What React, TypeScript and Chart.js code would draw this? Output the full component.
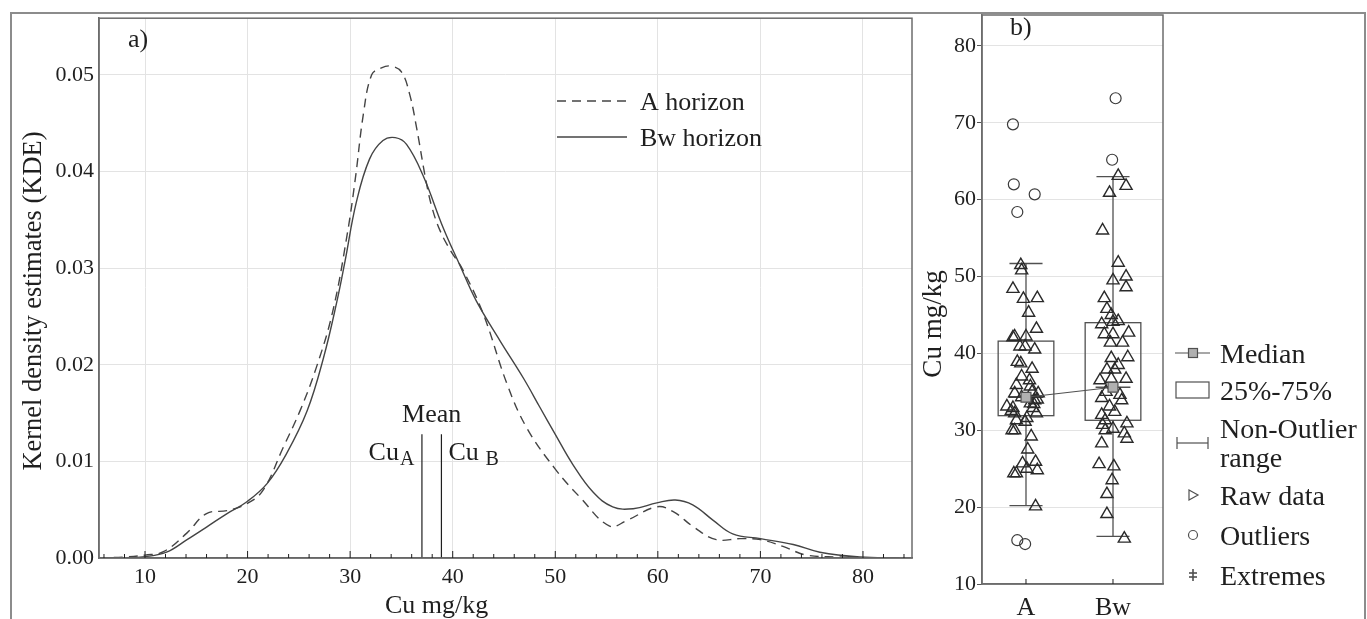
import { useEffect, useRef } from 'react';
import { Chart, registerables } from 'chart.js';

Chart.register(...registerables);

const SERIF = '"Liberation Serif", "DejaVu Serif", "Times New Roman", serif';
const INK = '#1f1f1f';
const CURVE = '#444444';
const FRAME = '#6c6c6c';
const GRID = '#e3e3e3';

// ---- a) kernel density estimates
const kdeAX = [5.5, 8, 10, 11.8, 14.1, 16, 18, 19.9, 21.5, 23.5, 25.1, 26.7, 28.3, 29.7, 30.5, 31.3, 32.1, 33, 34, 35, 35.8, 36.5, 37.4, 38.0, 38.8, 39.8, 41.0, 43, 45.3, 47.2, 50, 52.4, 55.3, 57, 59.9, 61.5, 63.5, 65.7, 68, 70, 72.2, 74.5, 77.7, 80, 83.5];
const kdeAY = [0, 0.0001, 0.0003, 0.00065, 0.0026, 0.0046, 0.0049, 0.0056, 0.007, 0.0115, 0.0152, 0.0197, 0.0255, 0.0334, 0.0392, 0.046, 0.05, 0.0507, 0.0509, 0.0503, 0.048, 0.0444, 0.039, 0.0362, 0.0338, 0.0318, 0.0298, 0.0252, 0.018, 0.0135, 0.0092, 0.0063, 0.0033, 0.0039, 0.0053, 0.0048, 0.0032, 0.0019, 0.002, 0.0019, 0.0012, 0.0003, 0.0001, 0, 0];

const kdeBX = [5.5, 8, 10, 12.1, 14.1, 16, 18, 19.9, 21.9, 23.8, 25.8, 27.4, 28.7, 29.5, 30.6, 31.9, 33.2, 34.4, 35.5, 37.1, 39.1, 40.7, 42.3, 44.6, 46.9, 48.5, 50, 51.7, 53.7, 55.6, 57.6, 59.9, 61.7, 63.4, 65.4, 67.3, 70, 73.2, 75.8, 79.7, 83.5];
const kdeBY = [0, 0, 0.00013, 0.0006, 0.0019, 0.0032, 0.0046, 0.0058, 0.0077, 0.0108, 0.0152, 0.0207, 0.0265, 0.0307, 0.0368, 0.0413, 0.0432, 0.0435, 0.0428, 0.0396, 0.0341, 0.0303, 0.0266, 0.0225, 0.0186, 0.0156, 0.0128, 0.0097, 0.0068, 0.0053, 0.0051, 0.0057, 0.006, 0.0055, 0.0039, 0.0025, 0.002, 0.0014, 0.0006, 0.0001, 0];

const kdeTicksX = [10, 20, 30, 40, 50, 60, 70, 80];
const kdeTicksY = [0, 0.01, 0.02, 0.03, 0.04, 0.05];

const meanA = 37.0;
const meanB = 38.9;
const meanTop = 0.0128;

// ---- b) box plot of Cu by horizon
const groups = ['A', 'Bw'];
const boxQ1 = [31.9, 31.3];
const boxQ3 = [41.6, 44.0];
const boxMedian = [34.3, 35.6];
const whiskerLow = [20.2, 16.2];
const whiskerHigh = [51.7, 63.0];

const rawA = [51.5, 50.8, 48.4, 47.1, 47.2, 45.3, 43.2, 42.2, 42.2, 42.1, 40.9, 40.5, 40.9, 38.9, 38.7, 38.0, 37.0, 36.5, 35.9, 35.7, 34.8, 34.8, 33.9, 33.1, 32.9, 32.2, 32.9, 32.2, 31.3, 31.1, 31.6, 30.0, 30.0, 29.2, 27.5, 25.7, 25.0, 25.9, 24.8, 24.4, 24.4, 20.1, 34.3, 33.5, 34.0, 32.5, 33.4, 35.0];
const rawAJitter = [-0.06, -0.05, -0.15, -0.03, 0.13, 0.03, 0.12, -0.13, 0.0, -0.15, -0.07, 0.1, -0.01, -0.1, -0.06, 0.07, -0.05, 0.04, -0.11, 0.05, -0.13, 0.14, 0.1, -0.22, -0.15, -0.13, 0.08, 0.12, -0.11, -0.01, 0.01, -0.16, -0.13, 0.06, 0.02, -0.04, 0.01, 0.11, 0.13, -0.14, -0.11, 0.11, -0.05, 0.05, 0.13, -0.17, 0.09, 0.07];

const rawBw = [63.1, 61.8, 60.9, 56.0, 51.8, 50.0, 49.5, 48.6, 47.2, 45.8, 45.0, 44.2, 43.8, 44.1, 42.7, 42.5, 42.5, 41.4, 41.4, 39.5, 39.4, 37.9, 38.5, 37.9, 36.7, 36.5, 36.7, 35.0, 34.2, 34.6, 33.9, 33.1, 32.4, 32.0, 31.3, 30.9, 30.7, 30.2, 30.0, 29.6, 28.9, 28.3, 25.6, 25.3, 23.5, 21.7, 19.1, 15.9];
const rawBwJitter = [0.06, 0.15, -0.04, -0.12, 0.06, 0.15, 0.0, 0.15, -0.1, -0.07, -0.02, 0.06, -0.13, 0.0, 0.18, -0.1, 0.0, 0.11, -0.03, 0.17, -0.02, -0.07, 0.06, 0.02, 0.15, -0.15, -0.02, -0.08, -0.13, 0.08, 0.1, -0.04, 0.02, -0.13, -0.09, 0.16, -0.12, 0.0, -0.09, 0.13, 0.16, -0.13, -0.16, 0.01, -0.01, -0.07, -0.07, 0.13];

const outA = [69.8, 62.0, 60.7, 58.4, 15.7, 15.2];
const outAJitter = [-0.15, -0.14, 0.1, -0.1, -0.1, -0.01];
const outBw = [73.2, 65.2];
const outBwJitter = [0.03, -0.01];

const boxTicksY = [10, 20, 30, 40, 50, 60, 70, 80];
const legendLabels = ['Median', '25%-75%', 'Non-Outlier', 'range', 'Raw data', 'Outliers', 'Extremes'];

// sizes in category units
const boxHalf = 0.32;
const capHalf = 0.19;
const medianHalf = 0.2;

function txt(ctx: CanvasRenderingContext2D, s: string, x: number, y: number, size: number, align: CanvasTextAlign = 'left', rotate = 0) {
  ctx.save();
  ctx.font = `${size}px ${SERIF}`;
  ctx.fillStyle = INK;
  ctx.textAlign = align;
  ctx.textBaseline = 'alphabetic';
  ctx.translate(x, y);
  if (rotate) ctx.rotate(rotate);
  ctx.fillText(s, 0, 0);
  ctx.restore();
}

function seg(ctx: CanvasRenderingContext2D, x1: number, y1: number, x2: number, y2: number) {
  ctx.beginPath();
  ctx.moveTo(x1, y1);
  ctx.lineTo(x2, y2);
  ctx.stroke();
}

const kdeDecor = {
  id: 'kdeDecor',
  afterDraw(chart: any) {
    const { ctx, chartArea: a, scales } = chart;
    const sx = scales.x;
    ctx.save();
    ctx.strokeStyle = FRAME;
    ctx.lineWidth = 1.5;
    ctx.strokeRect(a.left, a.top, a.right - a.left, a.bottom - a.top);

    // inward ticks along the x axis
    ctx.strokeStyle = INK;
    ctx.lineWidth = 1;
    for (let v = 6; v <= 84; v += 2) {
      const px = sx.getPixelForValue(v);
      seg(ctx, px, a.bottom, px, a.bottom - (v % 10 === 0 ? 7 : 4));
    }

    // legend
    ctx.strokeStyle = CURVE;
    ctx.lineWidth = 1.4;
    ctx.setLineDash([9, 6]);
    seg(ctx, 557, 101, 627, 101);
    ctx.setLineDash([]);
    seg(ctx, 557, 137, 627, 137);
    txt(ctx, 'A horizon', 640, 110, 26);
    txt(ctx, 'Bw horizon', 640, 146, 26);

    txt(ctx, 'a)', 128, 47, 26);

    // mean labels
    const mA = sx.getPixelForValue(meanA);
    const mB = sx.getPixelForValue(meanB);
    txt(ctx, 'Mean', (mA + mB) / 2, 422, 26, 'center');
    txt(ctx, 'Cu', mA - 23, 460, 26, 'right');
    txt(ctx, 'A', mA - 22, 465, 20, 'left');
    txt(ctx, 'Cu', mB + 7, 460, 26, 'left');
    txt(ctx, 'B', mB + 44, 465, 20, 'left');

    // axis titles
    txt(ctx, 'Cu mg/kg', 385, 613, 26);
    txt(ctx, 'Kernel density estimates (KDE)', 41, 301, 26.5, 'center', -Math.PI / 2);
    ctx.restore();
  },
};

const boxDecor = {
  id: 'boxDecor',
  beforeDatasetsDraw(chart: any) {
    const { ctx, scales } = chart;
    const { x, y } = scales;
    ctx.save();
    ctx.strokeStyle = '#505050';
    ctx.lineWidth = 1.3;
    groups.forEach((_, i) => {
      const c = i + 1;
      const cx = x.getPixelForValue(c);
      const l = x.getPixelForValue(c - boxHalf);
      const r = x.getPixelForValue(c + boxHalf);
      const top = y.getPixelForValue(boxQ3[i]);
      const bot = y.getPixelForValue(boxQ1[i]);
      ctx.strokeRect(l, top, r - l, bot - top);
      const lo = y.getPixelForValue(whiskerLow[i]);
      const hi = y.getPixelForValue(whiskerHigh[i]);
      seg(ctx, cx, bot, cx, lo);
      seg(ctx, cx, top, cx, hi);
      const cl = x.getPixelForValue(c - capHalf);
      const cr = x.getPixelForValue(c + capHalf);
      seg(ctx, cl, lo, cr, lo);
      seg(ctx, cl, hi, cr, hi);
      const md = y.getPixelForValue(boxMedian[i]);
      seg(ctx, x.getPixelForValue(c - medianHalf), md, x.getPixelForValue(c + medianHalf), md);
    });
    ctx.restore();
  },
  afterDraw(chart: any) {
    const { ctx, chartArea: a, scales } = chart;
    const off = 912; // canvas sits at page x = 912
    ctx.save();
    ctx.strokeStyle = FRAME;
    ctx.lineWidth = 1.5;
    ctx.strokeRect(a.left, a.top, a.right - a.left, a.bottom - a.top);
    ctx.strokeStyle = INK;
    ctx.lineWidth = 1;
    groups.forEach((_, i) => {
      const px = scales.x.getPixelForValue(i + 1);
      seg(ctx, px, a.bottom, px, a.bottom - 5);
    });

    txt(ctx, 'b)', 1010 - off, 35, 26);
    txt(ctx, 'Cu mg/kg', 941 - off, 324, 27, 'center', -Math.PI / 2);

    // legend outside the plot
    const ix = 1193 - off;
    const tx = 1220 - off;
    const rows = [353, 390, 428, 457, 495, 535, 575];
    ctx.strokeStyle = '#505050';
    ctx.lineWidth = 1.2;
    seg(ctx, ix - 18, rows[0], ix + 17, rows[0]);
    ctx.fillStyle = '#b0b0b0';
    ctx.fillRect(ix - 4.5, rows[0] - 4.5, 9, 9);
    ctx.strokeRect(ix - 4.5, rows[0] - 4.5, 9, 9);
    ctx.strokeRect(ix - 17, rows[1] - 8, 33, 16);
    const wy = 443;
    seg(ctx, ix - 16, wy, ix + 15, wy);
    seg(ctx, ix - 16, wy - 6, ix - 16, wy + 6);
    seg(ctx, ix + 15, wy - 6, ix + 15, wy + 6);
    ctx.beginPath();
    ctx.moveTo(ix - 4, rows[4] - 5);
    ctx.lineTo(ix + 5, rows[4]);
    ctx.lineTo(ix - 4, rows[4] + 5);
    ctx.closePath();
    ctx.stroke();
    ctx.beginPath();
    ctx.arc(ix, rows[5], 4.5, 0, Math.PI * 2);
    ctx.stroke();
    ctx.lineWidth = 1.6;
    seg(ctx, ix, rows[6] - 6, ix, rows[6] + 6);
    seg(ctx, ix - 4, rows[6] - 2, ix + 4, rows[6] - 2);
    seg(ctx, ix - 4, rows[6] + 2, ix + 4, rows[6] + 2);
    legendLabels.forEach((s, i) => txt(ctx, s, tx, rows[i] + 10, 28));
    ctx.restore();
  },
};

export default function App() {
  const leftRef = useRef<HTMLCanvasElement | null>(null);
  const rightRef = useRef<HTMLCanvasElement | null>(null);

  useEffect(() => {
    if (!leftRef.current || !rightRef.current) return;
    Chart.defaults.font.family = SERIF;
    Chart.defaults.color = INK;

    const kde = new Chart(leftRef.current, {
      type: 'line',
      data: {
        datasets: [
          {
            label: 'A horizon',
            data: kdeAX.map((x, i) => ({ x, y: kdeAY[i] })),
            borderColor: CURVE,
            borderWidth: 1.4,
            borderDash: [9, 6],
            pointRadius: 0,
            tension: 0.4,
          },
          {
            label: 'Bw horizon',
            data: kdeBX.map((x, i) => ({ x, y: kdeBY[i] })),
            borderColor: CURVE,
            borderWidth: 1.4,
            pointRadius: 0,
            tension: 0.4,
          },
          {
            label: 'mean A',
            data: [{ x: meanA, y: 0 }, { x: meanA, y: meanTop }],
            borderColor: INK,
            borderWidth: 1.2,
            pointRadius: 0,
          },
          {
            label: 'mean B',
            data: [{ x: meanB, y: 0 }, { x: meanB, y: meanTop }],
            borderColor: INK,
            borderWidth: 1.2,
            pointRadius: 0,
          },
        ],
      },
      options: {
        responsive: true,
        maintainAspectRatio: false,
        animation: false,
        events: [],
        layout: { padding: { left: 0, right: 2, top: 15, bottom: 0 } },
        plugins: { legend: { display: false }, tooltip: { enabled: false } },
        scales: {
          x: {
            type: 'linear',
            min: 5.515,
            max: 84.78,
            afterBuildTicks: (axis: any) => { axis.ticks = kdeTicksX.map((value) => ({ value })); },
            afterFit: (axis: any) => { axis.height = 61; },
            grid: { color: GRID, drawTicks: false },
            border: { color: '#555', width: 1.5 },
            ticks: { font: { size: 22 }, padding: 6, color: INK },
          },
          y: {
            type: 'linear',
            min: 0,
            max: 0.05586,
            afterBuildTicks: (axis: any) => { axis.ticks = kdeTicksY.map((value) => ({ value })); },
            afterFit: (axis: any) => { axis.width = 99; },
            grid: { color: GRID, drawTicks: false },
            border: { color: FRAME, width: 1.5 },
            ticks: { font: { size: 22 }, padding: 5, color: INK, callback: (v: any) => Number(v).toFixed(2) },
          },
        },
      },
      plugins: [kdeDecor],
    } as any);

    const box = new Chart(rightRef.current, {
      type: 'scatter',
      data: {
        datasets: [
          {
            label: 'Median',
            type: 'line',
            data: boxMedian.map((y, i) => ({ x: i + 1, y })),
            borderColor: '#505050',
            borderWidth: 1.2,
            pointStyle: 'rect',
            pointRadius: 7,
            pointBackgroundColor: '#b0b0b0',
            pointBorderColor: '#505050',
            pointBorderWidth: 1.2,
          },
          {
            label: 'Raw data',
            data: [
              ...rawA.map((y, i) => ({ x: 1 + rawAJitter[i], y })),
              ...rawBw.map((y, i) => ({ x: 2 + rawBwJitter[i], y })),
            ],
            pointStyle: 'triangle',
            pointRadius: 7,
            borderColor: '#2a2a2a',
            backgroundColor: 'rgba(0,0,0,0)',
            borderWidth: 1.4,
          },
          {
            label: 'Outliers',
            data: [
              ...outA.map((y, i) => ({ x: 1 + outAJitter[i], y })),
              ...outBw.map((y, i) => ({ x: 2 + outBwJitter[i], y })),
            ],
            pointStyle: 'circle',
            pointRadius: 5.5,
            borderColor: '#3a3a3a',
            backgroundColor: 'rgba(0,0,0,0)',
            borderWidth: 1.2,
          },
        ],
      },
      options: {
        responsive: true,
        maintainAspectRatio: false,
        animation: false,
        events: [],
        layout: { padding: { left: 0, right: 204, top: 15, bottom: 0 } },
        plugins: { legend: { display: false }, tooltip: { enabled: false } },
        scales: {
          x: {
            type: 'linear',
            min: 0.4943,
            max: 2.5747,
            afterBuildTicks: (axis: any) => { axis.ticks = groups.map((_, i) => ({ value: i + 1 })); },
            afterFit: (axis: any) => { axis.height = 35; },
            grid: { display: false, drawTicks: false },
            border: { color: FRAME, width: 1.5 },
            ticks: { font: { size: 26 }, padding: 9, color: INK, callback: (v: any) => groups[Number(v) - 1] ?? '' },
          },
          y: {
            type: 'linear',
            min: 10,
            max: 84.03,
            afterBuildTicks: (axis: any) => { axis.ticks = boxTicksY.map((value) => ({ value })); },
            afterFit: (axis: any) => { axis.width = 70; },
            grid: { color: GRID, tickLength: 5, tickColor: '#555' },
            border: { color: FRAME, width: 1.5 },
            ticks: { font: { size: 22 }, padding: 1, color: INK },
          },
        },
      },
      plugins: [boxDecor],
    } as any);

    return () => {
      kde.destroy();
      box.destroy();
    };
  }, []);

  return (
    <div style={{ position: 'fixed', left: 0, top: 0, width: 1367, height: 619, background: '#fff', overflow: 'hidden' }}>
      <div style={{ position: 'absolute', left: 10, top: 12, width: 1356, height: 700, border: '2px solid #8c8c8c', boxSizing: 'border-box' }} />
      <div style={{ position: 'absolute', left: 0, top: 0, width: 914, height: 619 }}>
        <canvas ref={leftRef} />
      </div>
      <div style={{ position: 'absolute', left: 912, top: 0, width: 455, height: 619 }}>
        <canvas ref={rightRef} />
      </div>
    </div>
  );
}
